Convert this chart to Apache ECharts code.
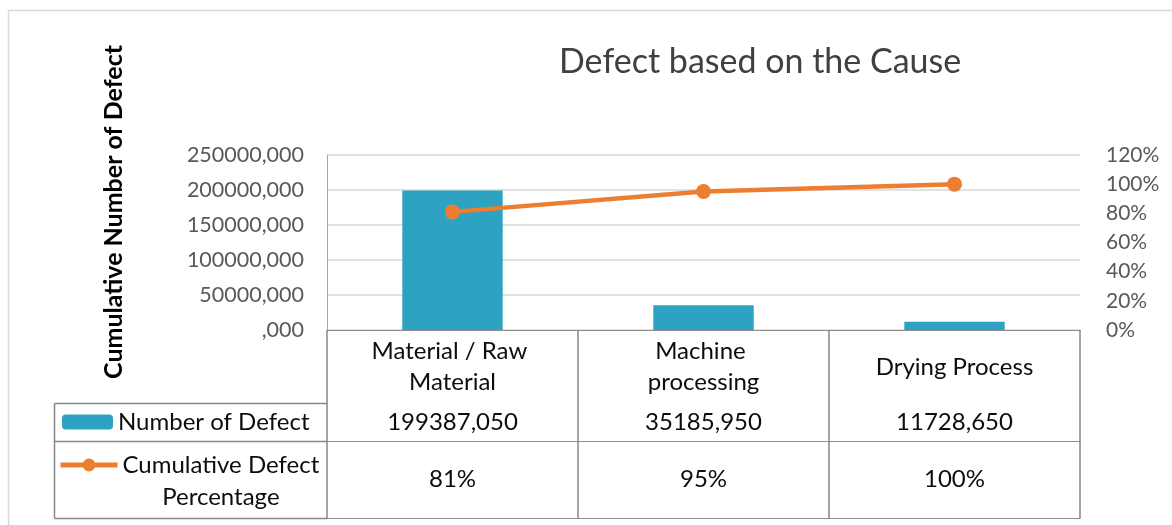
<!DOCTYPE html>
<html>
<head>
<meta charset="utf-8">
<script src="https://cdn.jsdelivr.net/npm/echarts@6/dist/echarts.min.js"></script>
<style>
  html, body { margin: 0; padding: 0; background: #fff; }
  #chart { width: 1172px; height: 525px; }
</style>
</head>
<body>
<div id="chart"></div>
<script>
const categories = ["Material / Raw Material", "Machine processing", "Drying Process"];
const defects = [199387.05, 35185.95, 11728.65];
const cumulativePct = [81, 95, 100];

const FONT = "Lato";
const tableColor = "#8C8C8C";

// excel style "#,000" with comma as decimal mark
function fmtNum(v) {
  const parts = Number(v).toFixed(3).split(".");
  return (parts[0] === "0" ? "" : parts[0]) + "," + parts[1];
}

const chart = echarts.init(document.getElementById("chart"));

const tableAxis = (offset, margin, formatter) => ({
  type: "category",
  data: categories,
  position: "bottom",
  offset: offset,
  axisLine: { show: true, lineStyle: { color: tableColor, width: 1 } },
  axisTick: { show: false },
  axisLabel: {
    show: !!formatter,
    interval: 0,
    margin: margin,
    verticalAlign: "middle",
    fontFamily: FONT,
    fontSize: 24,
    lineHeight: 31,
    color: "#0d0d0d",
    width: 180,
    overflow: "break",
    formatter: formatter
  },
  splitLine: { show: false }
});

chart.setOption({
  animation: false,
  title: {
    text: "Defect based on the Cause",
    left: 554,
    top: 40,
    textStyle: { fontFamily: FONT, fontSize: 34, fontWeight: "normal", color: "#404040" }
  },
  grid: { left: 327, right: 92, top: 155, bottom: 195 },
  legend: [
    {
      data: ["Number of Defect"],
      left: 62,
      top: 407,
      padding: 0,
      itemWidth: 51,
      itemHeight: 15,
      selectedMode: false,
      textStyle: { fontFamily: FONT, fontSize: 24, lineHeight: 30, color: "#0d0d0d" }
    },
    {
      data: ["Cumulative Defect Percentage"],
      left: 58,
      top: 417,
      padding: 0,
      itemWidth: 57,
      itemHeight: 16,
      selectedMode: false,
      lineStyle: { width: 5 },
      formatter: (name) => {
        const w = name.split(" ");
        return "{c|" + w.slice(0, 2).join(" ") + "}\n{c|" + w.slice(2).join(" ") + "}";
      },
      textStyle: {
        fontFamily: FONT, fontSize: 24, lineHeight: 32, color: "#0d0d0d",
        padding: [32, 0, 0, 0],
        rich: { c: { fontFamily: FONT, fontSize: 24, lineHeight: 32, color: "#0d0d0d", align: "center" } }
      }
    }
  ],
  xAxis: [
    tableAxis(0, 37, (v) => v),
    tableAxis(73, 19, (v, i) => fmtNum(defects[i])),
    tableAxis(111, 38, (v, i) => cumulativePct[i] + "%"),
    tableAxis(188, 0, null)
  ],
  yAxis: [
    {
      type: "value",
      min: 0,
      max: 250000,
      interval: 50000,
      axisLine: { show: true, lineStyle: { color: "#A6A6A6" } },
      axisTick: { show: false },
      splitLine: { lineStyle: { color: "#D9D9D9", width: 1.5 } },
      axisLabel: { formatter: fmtNum, fontFamily: FONT, fontSize: 21.5, color: "#595959", margin: 23 }
    },
    {
      type: "value",
      position: "right",
      min: 0,
      max: 120,
      interval: 20,
      axisLine: { show: false },
      axisTick: { show: false },
      splitLine: { show: false },
      axisLabel: { formatter: "{value}%", fontFamily: FONT, fontSize: 21, color: "#595959", margin: 26 }
    }
  ],
  series: [
    {
      name: "Number of Defect",
      type: "bar",
      data: defects,
      barWidth: "40%",
      itemStyle: { color: "#2EA3C1" }
    },
    {
      name: "Cumulative Defect Percentage",
      type: "line",
      yAxisIndex: 1,
      data: cumulativePct,
      symbol: "circle",
      symbolSize: 15,
      lineStyle: { color: "#ED7D31", width: 4.5 },
      itemStyle: { color: "#ED7D31" }
    }
  ]
});

// data table frame: cell borders follow the category bands of the x axis
const c0 = chart.convertToPixel({ xAxisIndex: 0 }, 0);
const band = chart.convertToPixel({ xAxisIndex: 0 }, 1) - c0;
const tableTop = 330, row2 = 403.5, row3 = 441.5, tableBottom = 518.5;
const gridLeft = Math.round(c0 - band / 2);
const frameLines = [
  [gridLeft, row2, 54.5, row2],
  [54.5, row2, 54.5, tableBottom],
  [54.5, tableBottom, gridLeft, tableBottom],
  [54.5, row3, gridLeft, row3]
];
for (let k = 0; k <= categories.length; k++) {
  const x = Math.round(c0 - band / 2 + k * band);
  frameLines.push([x, tableTop, x, tableBottom]);
}

chart.setOption({
  graphic: [
    {
      type: "rect",
      shape: { x: 8.5, y: 10.5, width: 1180, height: 530 },
      style: { fill: "none", stroke: "#D9D9D9", lineWidth: 1.5 },
      silent: true
    },
    ...frameLines.map((p) => ({
      type: "line",
      z: 100,
      shape: { x1: p[0], y1: p[1], x2: p[2], y2: p[3] },
      style: { stroke: "#868686", lineWidth: 1.5 },
      silent: true
    })),
    {
      type: "text",
      x: 114,
      y: 212,
      rotation: Math.PI / 2,
      style: {
        text: "Cumulative Number of Defect",
        fontFamily: FONT,
        fontSize: 25,
        fontWeight: "bold",
        fill: "#000",
        align: "center",
        verticalAlign: "middle"
      },
      silent: true
    }
  ]
});
</script>
</body>
</html>
